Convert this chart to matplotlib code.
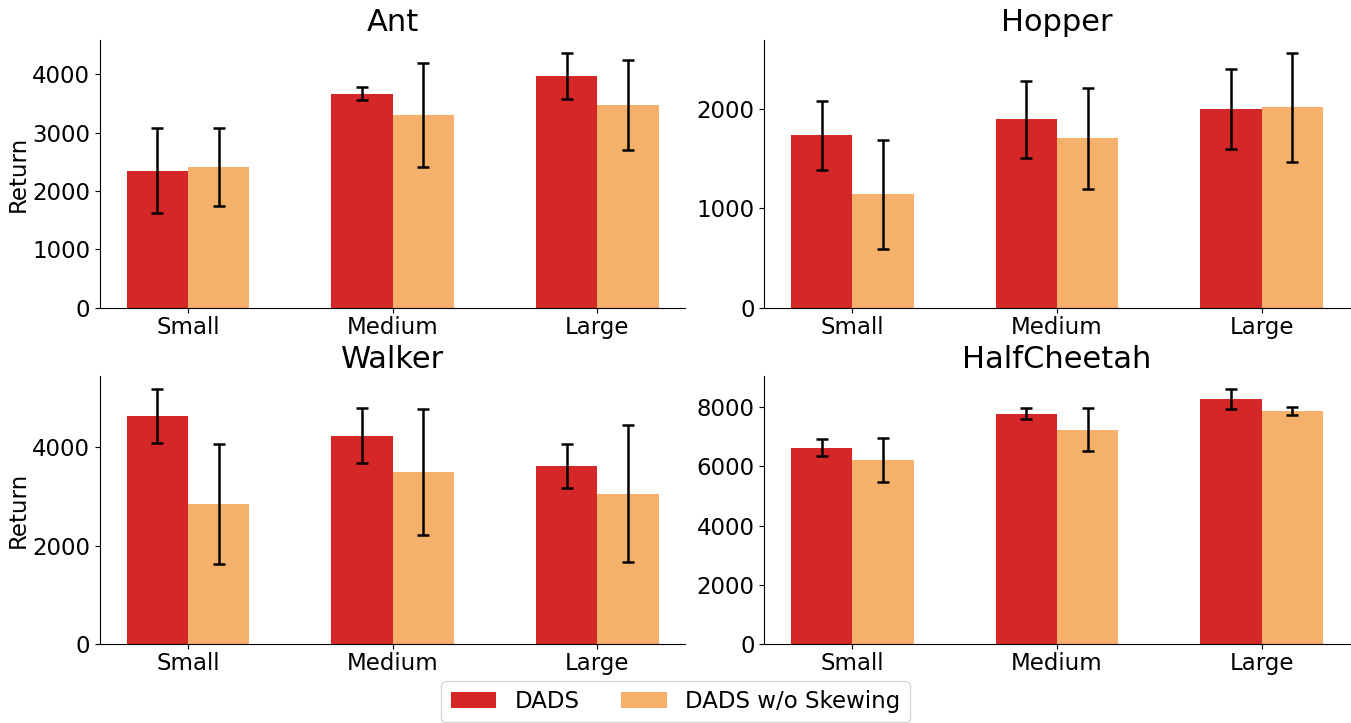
import numpy as np
import matplotlib
matplotlib.use("Agg")
import matplotlib.pyplot as plt

# data
sizes = ["Small", "Medium", "Large"]
envs = ["Ant", "Hopper", "Walker", "HalfCheetah"]

dads_mean = {
    "Ant": [2350, 3664, 3972],
    "Hopper": [1732, 1893, 1993],
    "Walker": [4636, 4230, 3621],
    "HalfCheetah": [6625, 7773, 8268],
}
dads_err = {
    "Ant": [728, 113, 398],
    "Hopper": [345, 385, 400],
    "Walker": [545, 562, 447],
    "HalfCheetah": [293, 191, 343],
}
noskew_mean = {
    "Ant": [2418, 3306, 3477],
    "Hopper": [1140, 1702, 2013],
    "Walker": [2849, 3499, 3052],
    "HalfCheetah": [6220, 7233, 7874],
}
noskew_err = {
    "Ant": [668, 888, 771],
    "Hopper": [550, 508, 550],
    "Walker": [1222, 1279, 1388],
    "HalfCheetah": [748, 715, 140],
}
yticks = {
    "Ant": [0, 1000, 2000, 3000, 4000],
    "Hopper": [0, 1000, 2000],
    "Walker": [0, 2000, 4000],
    "HalfCheetah": [0, 2000, 4000, 6000, 8000],
}

RED = "#d62728"
ORANGE = "#f5b06c"
WIDTH = 0.3
FS = 16.5

fig, axes = plt.subplots(2, 2, figsize=(13.51, 7.23), dpi=100)
fig.subplots_adjust(left=0.074, right=0.999, top=0.945, bottom=0.109,
                    wspace=0.135, hspace=0.254)

x = np.arange(len(sizes))
err_kw = dict(ecolor="black", elinewidth=1.8, capsize=4, capthick=1.8)

for ax, env in zip(axes.flat, envs):
    b1 = ax.bar(x - WIDTH / 2, dads_mean[env], WIDTH, yerr=dads_err[env],
                color=RED, error_kw=err_kw, label="DADS")
    b2 = ax.bar(x + WIDTH / 2, noskew_mean[env], WIDTH, yerr=noskew_err[env],
                color=ORANGE, error_kw=err_kw, label="DADS w/o Skewing")
    ax.set_title(env, fontsize=22)
    ax.set_xticks(x)
    ax.set_xticklabels(sizes, fontsize=FS)
    ax.set_yticks(yticks[env])
    ax.tick_params(axis="y", labelsize=FS)
    ax.tick_params(axis="x", pad=2)
    ax.spines["top"].set_visible(False)
    ax.spines["right"].set_visible(False)

axes[0, 0].set_ylabel("Return", fontsize=FS, labelpad=2)
axes[1, 0].set_ylabel("Return", fontsize=FS, labelpad=2)

fig.legend([b1, b2], ["DADS", "DADS w/o Skewing"], loc="lower center",
           ncol=2, fontsize=FS, bbox_to_anchor=(0.5, -0.015),
           columnspacing=1.8)

fig.savefig("out.png", dpi=100)
